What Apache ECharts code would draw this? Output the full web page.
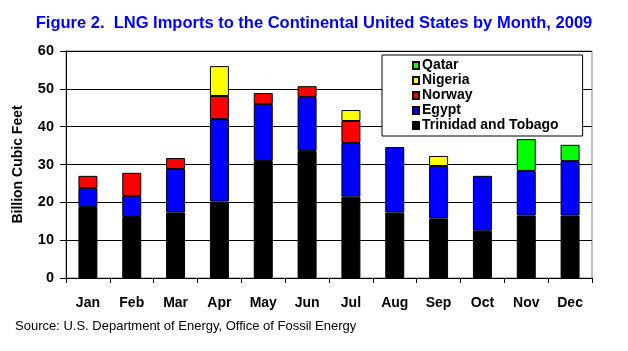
<!DOCTYPE html>
<html><head><meta charset="utf-8">
<script src="https://cdn.jsdelivr.net/npm/echarts@6/dist/echarts.min.js"></script>
<style>html,body{margin:0;padding:0;background:#fff}#c{width:628px;height:351px}</style>
</head><body><div id="c"></div>
<script>
var months = ['Jan','Feb','Mar','Apr','May','Jun','Jul','Aug','Sep','Oct','Nov','Dec'];
var trinidad = [18.8,16.1,17.3,20.2,30.9,33.6,21.5,17.3,15.7,12.5,16.5,16.5];
var egypt    = [5.0,5.6,11.5,21.8,15.1,14.2,14.2,17.3,13.9,14.5,11.8,14.4];
var norway   = [3.2,6.1,2.9,6.1,2.9,2.9,5.8,0,0,0,0,0];
var nigeria  = [0,0,0,7.9,0,0,2.9,0,2.65,0,0,0];
var qatar    = [0,0,0,0,0,0,0,0,0,0,8.4,4.3];
var yTicks = [0,10,20,30,40,50,60];

function toData(arr){ return arr.map(function(v){ return v === 0 ? '-' : v; }); }
var font = 'Liberation Sans, Arial, sans-serif';
function mk(name, arr, color){
  return {name:name, type:'bar', stack:'all', data:toData(arr), barWidth:19,
    itemStyle:{color:color, borderColor:'#000', borderWidth:1}};
}
var chart = echarts.init(document.getElementById('c'), null, {renderer:'canvas'});
chart.setOption({
  backgroundColor:'#fff',
  animation:false,
  title:{text:'Figure 2.  LNG Imports to the Continental United States by Month, 2009',
    left:'center', top:10, textStyle:{color:'#0000FF', fontFamily:font, fontWeight:'bold', fontSize:16.5}},
  grid:{left:66, right:36, top:51, bottom:73, show:true, borderColor:'#808080', borderWidth:1, backgroundColor:'transparent'},
  legend:{orient:'vertical', left:382, top:55, data:['Qatar','Nigeria','Norway','Egypt','Trinidad and Tobago'],
    icon:'rect', itemWidth:6, itemHeight:7, itemGap:0, padding:[3,24,3,30],
    backgroundColor:'#fff', borderColor:'#000', borderWidth:1,
    textStyle:{fontFamily:font, fontWeight:'bold', fontSize:14, color:'#000', lineHeight:15, padding:[0,0,0,-2]}},
  xAxis:{type:'category', data:months,
    axisLine:{lineStyle:{color:'#000', width:1}},
    axisTick:{show:true, length:5, lineStyle:{color:'#000'}, alignWithLabel:false},
    axisLabel:{fontFamily:font, fontWeight:'bold', fontSize:14, color:'#000', margin:18}},
  yAxis:{type:'value', min:0, max:60, interval:10,
    name:'Billion Cubic Feet', nameLocation:'middle', nameGap:41, nameRotate:90,
    nameTextStyle:{fontFamily:font, fontWeight:'bold', fontSize:14, color:'#000'},
    axisLine:{show:true, lineStyle:{color:'#000', width:1}},
    axisTick:{show:true, length:6, lineStyle:{color:'#000'}},
    axisLabel:{fontFamily:font, fontWeight:'bold', fontSize:14.5, color:'#000', margin:12,
      formatter:function(v){ return yTicks.indexOf(v) >= 0 ? String(v) : ''; }},
    splitLine:{show:true, lineStyle:{color:'#000', width:1}}},
  series:[
    mk('Trinidad and Tobago', trinidad, '#000000'),
    mk('Egypt', egypt, '#0000FF'),
    mk('Norway', norway, '#FF0000'),
    mk('Nigeria', nigeria, '#FFFF00'),
    mk('Qatar', qatar, '#00FF00')
  ],
  graphic:[{type:'text', left:15, top:320,
    style:{text:'Source: U.S. Department of Energy, Office of Fossil Energy', font:'13px '+font, fill:'#000'}}]
});
</script></body></html>
